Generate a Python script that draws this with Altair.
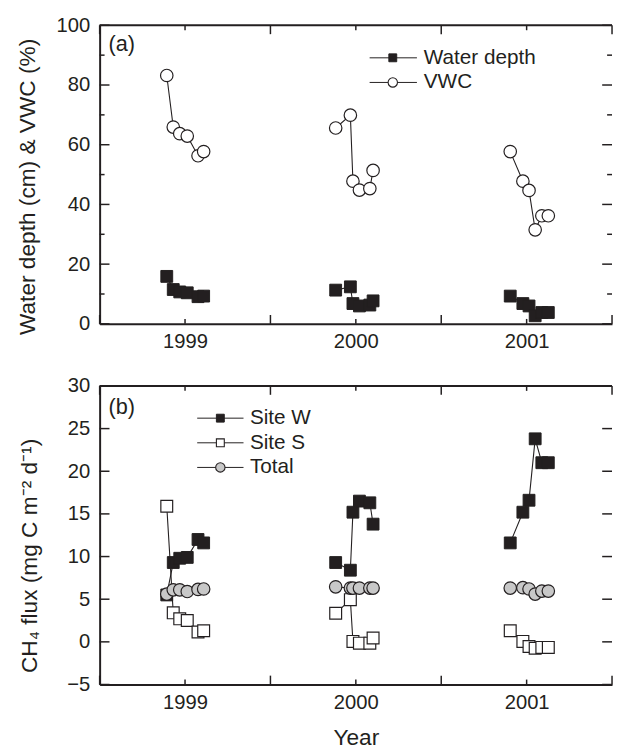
import altair as alt
import pandas as pd

# ---------------- data ----------------
dates = [1998.893, 1998.931, 1998.969, 1999.013, 1999.076, 1999.109,
         1999.882, 1999.968, 1999.983, 2000.021, 2000.082, 2000.101,
         2000.904, 2000.978, 2001.014, 2001.050, 2001.089, 2001.127]
season = [1999] * 6 + [2000] * 6 + [2001] * 6

water_depth = [15.9, 11.5, 10.7, 10.4, 9.1, 9.3,
               11.3, 12.4, 6.8, 6.0, 6.3, 7.7,
               9.3, 6.8, 6.0, 2.7, 3.8, 3.8]
vwc = [83.2, 65.9, 63.7, 62.9, 56.3, 57.7,
       65.6, 69.9, 47.8, 44.8, 45.3, 51.4,
       57.7, 47.8, 44.7, 31.5, 36.2, 36.2]

site_w = [5.5, 9.3, 9.8, 9.9, 12.0, 11.6,
          9.3, 8.4, 15.2, 16.5, 16.3, 13.8,
          11.6, 15.2, 16.6, 23.8, 21.0, 21.0]
site_s = [15.9, 3.4, 2.7, 2.5, 1.15, 1.3,
          3.35, 4.95, 0.05, -0.15, -0.15, 0.45,
          1.3, 0.05, -0.55, -0.75, -0.65, -0.65]
total = [5.6, 6.1, 6.1, 5.9, 6.15, 6.2,
         6.45, 6.3, 6.3, 6.3, 6.3, 6.3,
         6.3, 6.35, 6.2, 5.6, 5.95, 5.95]

year_labels = [1999, 2000, 2001]
x_half_ticks = [1998.5, 1999.5, 2000.5, 2001.5]
x_domain = [1998.5, 2001.5]

ya_labels = [0, 20, 40, 60, 80, 100]
ya_minor = [10, 30, 50, 70, 90]
ya_domain = [0, 100]

yb_labels = [-5, 0, 5, 10, 15, 20, 25, 30]
yb_domain = [-5, 30]

# ---------------- styling ----------------
BLACK = "#231f20"
GRAY = "#c8c8c8"
FONT = "Liberation Sans"
W = 520
H = 303

x_scale = alt.Scale(domain=x_domain, nice=False, zero=False)


def long_df(series):
    rows = []
    for name, vals in series:
        for d, s, v in zip(dates, season, vals):
            rows.append({"date": d, "season": s, "series": name,
                         "grp": f"{name}-{s}", "value": v})
    return pd.DataFrame(rows)


def frame_layers(y_scale, y_major, y_minor, x_axis, y_axis):
    one = pd.DataFrame({"k": [0]})
    layers = [
        alt.Chart(one).mark_rule(color=BLACK, strokeWidth=2).encode(
            x=alt.value(0), x2=alt.value(W), y=alt.value(0))
    ]
    for vals, ln in ((y_major, 10), (y_minor, 5)):
        if not vals:
            continue
        df = pd.DataFrame({"v": vals})
        yenc = alt.Y("v:Q", scale=y_scale, axis=y_axis)
        layers.append(alt.Chart(df).mark_rule(color=BLACK, strokeWidth=1.5).encode(
            y=yenc, x=alt.value(0), x2=alt.value(ln)))
        layers.append(alt.Chart(df).mark_rule(color=BLACK, strokeWidth=1.5).encode(
            y=yenc, x=alt.value(W - ln), x2=alt.value(W)))
    for vals, ln in ((x_half_ticks, 9), (year_labels, 5)):
        df = pd.DataFrame({"t": vals})
        xenc = alt.X("t:Q", scale=x_scale, axis=x_axis)
        layers.append(alt.Chart(df).mark_rule(color=BLACK, strokeWidth=1.5).encode(
            x=xenc, y=alt.value(H - ln), y2=alt.value(H)))
        layers.append(alt.Chart(df).mark_rule(color=BLACK, strokeWidth=1.5).encode(
            x=xenc, y=alt.value(0), y2=alt.value(ln)))
    return layers


def point_mark(style, size):
    shape, fill, sw = style
    return dict(shape=shape, filled=True, fill=fill, stroke=BLACK,
                strokeWidth=sw, size=size, opacity=1)


def legend_layers(items, x0, x1, xs, xt, ys):
    layers = []
    for (name, style, lsize), yy in zip(items, ys):
        df = pd.DataFrame({"label": [name]})
        layers.append(alt.Chart(df).mark_rule(color=BLACK, strokeWidth=1).encode(
            x=alt.value(x0), x2=alt.value(x1), y=alt.value(yy)))
        layers.append(alt.Chart(df).mark_point(**point_mark(style, lsize)).encode(
            x=alt.value(xs), y=alt.value(yy)))
        layers.append(alt.Chart(df).mark_text(
            align="left", baseline="middle", font=FONT, fontSize=21, color=BLACK).encode(
            x=alt.value(xt), y=alt.value(yy), text="label:N"))
    return layers


def panel_label(txt, yy):
    df = pd.DataFrame({"label": [txt]})
    return alt.Chart(df).mark_text(
        align="left", baseline="middle", font=FONT, fontSize=22, color=BLACK).encode(
        x=alt.value(9), y=alt.value(yy), text="label:N")


def data_layers(df, series_styles, y_scale, x_axis, y_axis):
    layers = []
    for name, style, size in series_styles:
        sub = alt.Chart(df).transform_filter(alt.datum.series == name)
        xenc = alt.X("date:Q", scale=x_scale, axis=x_axis)
        yenc = alt.Y("value:Q", scale=y_scale, axis=y_axis)
        layers.append(sub.mark_line(color=BLACK, strokeWidth=1.1).encode(
            x=xenc, y=yenc, detail="grp:N", order="date:Q"))
        layers.append(sub.mark_point(**point_mark(style, size)).encode(x=xenc, y=yenc))
    return layers


axis_common = dict(grid=False, ticks=False, tickSize=0, domain=True,
                   domainColor=BLACK, domainWidth=2, labelColor=BLACK,
                   labelFont=FONT, labelFontSize=20.5, titleFont=FONT,
                   titleColor=BLACK, titleFontWeight="normal", titleFontSize=23)

# ---------------- panel (a) ----------------
ya_scale = alt.Scale(domain=ya_domain, nice=False, zero=False)
df_a = long_df([("Water depth", water_depth), ("VWC", vwc)])
styles_a = [("Water depth", ("square", BLACK, 1), 144),
            ("VWC", ("circle", "white", 1.2), 160)]
x_axis_a = alt.Axis(values=year_labels, format="d", labelPadding=8.5, title=None, **axis_common)
y_axis_a = alt.Axis(values=ya_labels, format="d", labelPadding=10,
                    title="Water depth (cm) & VWC (%)", titleX=-73, titleY=163.5,
                    titleBaseline="middle", **axis_common)

legend_a = [("Water depth", ("square", BLACK, 1), 64),
            ("VWC", ("circle", "white", 1.1), 90)]

panel_a = alt.layer(
    *frame_layers(ya_scale, ya_labels, ya_minor, x_axis_a, y_axis_a),
    *data_layers(df_a, styles_a, ya_scale, x_axis_a, y_axis_a),
    *legend_layers(legend_a, 274, 322, 297.5, 329, [33, 58]),
    panel_label("(a)", 19),
).properties(width=W, height=H)

# ---------------- panel (b) ----------------
yb_scale = alt.Scale(domain=yb_domain, nice=False, zero=False)
df_b = long_df([("Site W", site_w), ("Site S", site_s), ("Total", total)])
styles_b = [("Site W", ("square", BLACK, 1), 144),
            ("Site S", ("square", "white", 1.2), 144),
            ("Total", ("circle", GRAY, 1.2), 160)]
x_axis_b = alt.Axis(values=year_labels, format="d", labelPadding=8.5,
                    title="Year", titleY=43, titleBaseline="top", **axis_common)
y_axis_b = alt.Axis(values=yb_labels, format="d", labelPadding=10,
                    title="CH₄ flux (mg C m⁻² d⁻¹)", titleX=-71, titleY=172,
                    titleBaseline="middle", **axis_common)

legend_b = [("Site W", ("square", BLACK, 1), 64),
            ("Site S", ("square", "white", 1.1), 64),
            ("Total", ("circle", GRAY, 1.1), 90)]

panel_b = alt.layer(
    *frame_layers(yb_scale, yb_labels, [], x_axis_b, y_axis_b),
    *data_layers(df_b, styles_b, yb_scale, x_axis_b, y_axis_b),
    *legend_layers(legend_b, 99, 146, 122.5, 152.5, [32.7, 57.7, 82.7]),
    panel_label("(b)", 21),
).properties(width=W, height=H)

chart = alt.vconcat(panel_a, panel_b, spacing=22).properties(
    padding={"left": 8, "top": 1, "right": 0, "bottom": 0},
    background="white",
).configure_view(stroke="transparent")

chart.save("out.html", embed_options={"renderer": "svg", "actions": False})
